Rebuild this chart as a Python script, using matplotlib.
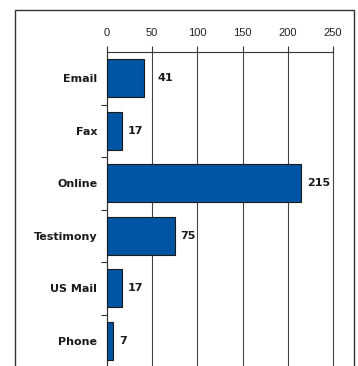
import matplotlib.pyplot as plt
from matplotlib.patches import Rectangle
from matplotlib.ticker import FixedLocator

# datos del gráfico
categories = ["Email", "Fax", "Online", "Testimony", "US Mail", "Phone"]
values = [41, 17, 215, 75, 17, 7]
x_ticks = [0, 50, 100, 150, 200, 250]

fig = plt.figure(figsize=(3.58, 3.66), dpi=100)
ax = fig.add_axes([107 / 358, -1 / 366, (333 - 107) / 358, (367 - 52) / 366])

# marco exterior
fig.patches.append(Rectangle((15 / 358, -0.05), (354 - 15) / 358, 1.05 - 10 / 366,
                             transform=fig.transFigure, fill=False,
                             edgecolor="#333333", linewidth=1.0))

pos = list(range(len(categories)))
ax.barh(pos, values, height=0.72, color="#0054A4", edgecolor="#1a1a1a", linewidth=0.8, zorder=3)

ax.set_xlim(0, 250)
ax.set_ylim(len(categories) - 0.5, -0.5)

# etiquetas de valor: si chocan con una línea de la rejilla, se ponen detrás de ella
units_per_px = 250 / (333 - 107)
gap = 5.5 * units_per_px
for p, v in zip(pos, values):
    label = str(v)
    x = v + gap
    width = len(label) * 8 * units_per_px
    for t in x_ticks:
        if x < t < x + width:
            x = t + gap
    ax.text(x, p, label, va="center", ha="left", fontsize=8,
            fontweight="bold", color="#1a1a1a", family="DejaVu Sans")

ax.xaxis.tick_top()
ax.set_xticks(x_ticks)
ax.set_xticklabels([str(t) for t in x_ticks], fontsize=8, color="#222222",
                   family="Liberation Sans")
ax.tick_params(axis="x", length=4, width=0.8, color="#333333", pad=6)

ax.set_yticks(pos)
ax.set_yticklabels(categories, fontsize=8, fontweight="bold", color="#1a1a1a",
                   family="DejaVu Sans")
ax.tick_params(axis="y", which="major", length=0, pad=7)
ax.yaxis.set_minor_locator(FixedLocator([p + 0.5 for p in pos[:-1]]))
ax.tick_params(axis="y", which="minor", length=4, width=0.8, color="#333333")

ax.grid(axis="x", color="#444444", linewidth=0.8, zorder=0)
for line in ax.get_xgridlines():
    line.set_clip_on(False)
for s in ["right", "bottom"]:
    ax.spines[s].set_visible(False)
ax.spines["top"].set_color("#333333")
ax.spines["left"].set_color("#333333")
ax.spines["top"].set_linewidth(0.8)
ax.spines["left"].set_linewidth(0.8)

fig.savefig("out.png", dpi=100)
